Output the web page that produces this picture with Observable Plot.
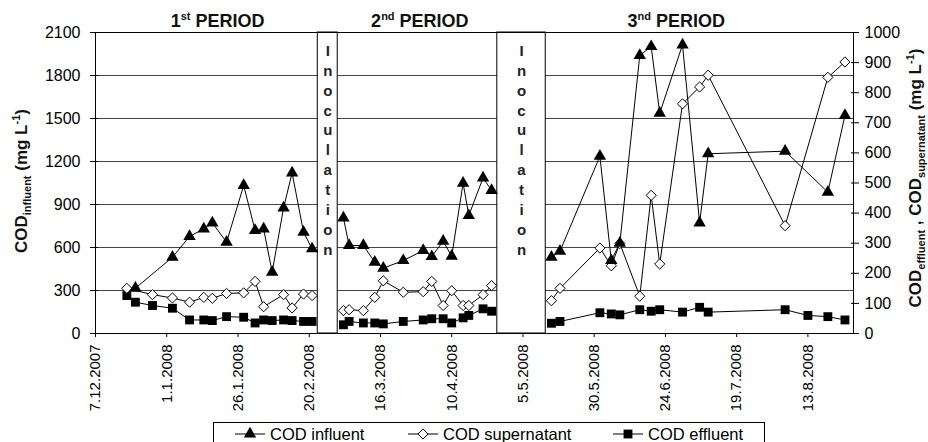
<!DOCTYPE html>
<html>
<head>
<meta charset="utf-8">
<script src="https://cdn.jsdelivr.net/npm/d3@7"></script>
<script src="https://cdn.jsdelivr.net/npm/@observablehq/plot@0.6"></script>
<style>
  html, body { margin: 0; padding: 0; background: #fff; }
  #wrap { position: relative; width: 928px; height: 442px; overflow: hidden; font-family: "Liberation Sans", Arial, sans-serif; }
  #chart svg { display: block; }
  #legend { position: absolute; left: 213px; top: 422px; }
</style>
</head>
<body>
<div id="wrap">
  <div id="chart"></div>
  <div id="legend"></div>
</div>
<script>
// ---------- DATA ----------
// COD influent (left axis, mg/L)
const influentDates = [
  "2007-12-21","2008-01-03","2008-01-09","2008-01-14","2008-01-17","2008-01-22","2008-01-28","2008-02-01","2008-02-04","2008-02-07","2008-02-11","2008-02-14","2008-02-18","2008-02-21",
  "2008-03-03","2008-03-05","2008-03-10","2008-03-14","2008-03-17","2008-03-24","2008-03-31","2008-04-03","2008-04-07","2008-04-10","2008-04-14","2008-04-16","2008-04-21","2008-04-24",
  "2008-05-15","2008-05-18","2008-06-01","2008-06-05","2008-06-08","2008-06-15","2008-06-19","2008-06-22","2008-06-30","2008-07-06","2008-07-09","2008-08-05","2008-08-20","2008-08-26"
];
const influentValues = [
  316, 532, 677, 730, 772, 637, 1033, 719, 730, 428, 876, 1121, 707, 591,
  807, 614, 614, 498, 456, 509, 579, 537, 644, 539, 1049, 823, 1086, 998,
  532, 574, 1237, 509, 630, 1940, 2002, 1537, 2014, 772, 1254, 1272, 986, 1521
];

// COD supernatant (right axis, mg/L)
const supernatantDates = [
  "2007-12-18","2007-12-27","2008-01-03","2008-01-09","2008-01-14","2008-01-17","2008-01-22","2008-01-28","2008-02-01","2008-02-04","2008-02-11","2008-02-14","2008-02-18","2008-02-21",
  "2008-03-03","2008-03-05","2008-03-10","2008-03-14","2008-03-17","2008-03-24","2008-03-31","2008-04-03","2008-04-07","2008-04-10","2008-04-14","2008-04-16","2008-04-21","2008-04-24",
  "2008-05-15","2008-05-18","2008-06-01","2008-06-05","2008-06-08","2008-06-15","2008-06-19","2008-06-22","2008-06-30","2008-07-06","2008-07-09","2008-08-05","2008-08-20","2008-08-26"
];
const supernatantValues = [
  150, 129, 118, 104, 120, 117, 133, 135, 173, 89, 129, 85, 131, 126,
  76, 79, 76, 120, 175, 137, 139, 173, 93, 142, 93, 93, 129, 159,
  109, 150, 284, 225, 299, 124, 459, 231, 763, 819, 858, 358, 851, 902
];

// COD effluent (right axis, mg/L)
const effluentDates = [
  "2007-12-18","2007-12-21","2007-12-27","2008-01-03","2008-01-09","2008-01-14","2008-01-17","2008-01-22","2008-01-28","2008-02-01","2008-02-04","2008-02-07","2008-02-11","2008-02-14","2008-02-18","2008-02-21",
  "2008-03-03","2008-03-05","2008-03-10","2008-03-14","2008-03-17","2008-03-24","2008-03-31","2008-04-03","2008-04-07","2008-04-10","2008-04-14","2008-04-16","2008-04-21","2008-04-24",
  "2008-05-15","2008-05-18","2008-06-01","2008-06-05","2008-06-08","2008-06-15","2008-06-19","2008-06-22","2008-06-30","2008-07-06","2008-07-09","2008-08-05","2008-08-13","2008-08-20","2008-08-26"
];
const effluentValues = [
  126, 104, 93, 84, 45, 45, 43, 56, 54, 35, 45, 43, 45, 43, 40, 40,
  29, 40, 35, 35, 32, 40, 45, 49, 49, 35, 52, 60, 82, 74,
  34, 40, 69, 65, 62, 79, 74, 79, 71, 87, 71, 79, 60, 56, 45
];

// Inoculation breaks
const inoculationStart = ["2008-02-23", "2008-04-26"];
const inoculationEnd   = ["2008-03-01", "2008-05-13"];
const inoculationWord = "Inoculation";

// Period titles
const periodNumbers = ["1", "2", "3"];
const periodSuffixes = ["st", "nd", "nd"];
const periodWord = "PERIOD";
const periodTitleDates = ["2008-01-19", "2008-03-30", "2008-06-28"];

// Axes
const xTickLabels = ["7.12.2007","1.1.2008","26.1.2008","20.2.2008","16.3.2008","10.4.2008","5.5.2008","30.5.2008","24.6.2008","19.7.2008","13.8.2008"];
const xDomainLabels = ["2007-12-07", "2008-08-29"];
const leftTickLabels = ["0","300","600","900","1200","1500","1800","2100"];
const rightTickLabels = ["0","100","200","300","400","500","600","700","800","900","1000"];
const gridValues = [300, 600, 900, 1200, 1500, 1800];
const leftMax = 2100, rightMax = 1000;

const seriesNames = ["COD influent", "COD supernatant", "COD effluent"];

// ---------- BUILD ----------
const iso = s => new Date(s + "T00:00:00Z");
const dmy = s => { const [d, m, y] = s.split(".").map(Number); return new Date(Date.UTC(y, m - 1, d)); };
const k = leftMax / rightMax;
const bandStarts = inoculationStart.map(iso);
const periodOf = d => d < bandStarts[0] ? 1 : d < bandStarts[1] ? 2 : 3;

const mk = (dates, values, scale) => dates.map((s, i) => {
  const date = iso(s);
  return { date, value: values[i], y: values[i] * scale, period: periodOf(date) };
});
const influent = mk(influentDates, influentValues, 1);
const supernatant = mk(supernatantDates, supernatantValues, k);
const effluent = mk(effluentDates, effluentValues, k);

const bands = inoculationStart.map((s, i) => ({ start: iso(s), end: iso(inoculationEnd[i]) }));
bands.forEach(b => b.mid = new Date((+b.start + +b.end) / 2));
const xTicks = xTickLabels.map(dmy);
const xLabelOf = d => xTickLabels[xTicks.findIndex(t => +t === +d)];
const leftTicks = leftTickLabels.map(Number);
const rightTicksY = rightTickLabels.map(v => Number(v) * k);
const rightLabelOf = d => rightTickLabels[rightTicksY.findIndex(t => Math.abs(t - d) < 1e-6)];
const leftLabelOf = d => leftTickLabels[leftTicks.indexOf(d)];

const FONT = "'Liberation Sans', Arial, Helvetica, sans-serif";

const plot = Plot.plot({
  width: 928,
  height: 420,
  marginLeft: 95,
  marginRight: 75,
  marginTop: 32,
  marginBottom: 87,
  style: { fontFamily: FONT, background: "white", color: "black", overflow: "visible" },
  x: { type: "utc", domain: xDomainLabels.map(iso) },
  y: { domain: [0, leftMax] },
  marks: [
    Plot.ruleY(gridValues, { stroke: "#444", strokeWidth: 1 }),
    Plot.rect(bands, { x1: "start", x2: "end", fill: "white", stroke: "black", strokeWidth: 1 }),
    Plot.text(bands, {
      x: "mid", frameAnchor: "top", dy: 9, lineAnchor: "top",
      text: () => inoculationWord.split("").join("\n"),
      lineHeight: 1.33, fontSize: 15, fontWeight: "bold", fill: "#222"
    }),
    Plot.frame({ stroke: "black", strokeWidth: 1 }),
    // x axis
    Plot.axisX(xTicks, { tickFormat: xLabelOf, tickRotate: -90, tickSize: 4, tickPadding: 7, fontSize: 15, label: null }),
    // left axis: labels + crossing ticks
    Plot.axisY(leftTicks, { anchor: "left", tickSize: 0, tickPadding: 15, fontSize: 16, tickFormat: leftLabelOf, label: null }),
    Plot.axisY(leftTicks, { anchor: "left", tickSize: 8, dx: 3, tickFormat: () => "", label: null }),
    // right axis: labels + crossing ticks
    Plot.axisY(rightTicksY, { anchor: "right", tickSize: 0, tickPadding: 11, fontSize: 16, tickFormat: rightLabelOf, label: null }),
    Plot.axisY(rightTicksY, { anchor: "right", tickSize: 8, dx: -3, tickFormat: () => "", label: null }),
    // lines
    Plot.line(influent, { x: "date", y: "y", z: "period", stroke: "black", strokeWidth: 1 }),
    Plot.line(supernatant, { x: "date", y: "y", z: "period", stroke: "black", strokeWidth: 1 }),
    Plot.line(effluent, { x: "date", y: "y", z: "period", stroke: "black", strokeWidth: 1 }),
    // markers
    Plot.dot(effluent, { x: "date", y: "y", symbol: "square", r: 5, fill: "black", stroke: "none" }),
    Plot.dot(supernatant, { x: "date", y: "y", symbol: "diamond2", r: 4.6, fill: "white", stroke: "black", strokeWidth: 1 }),
    Plot.dot(influent, { x: "date", y: "y", symbol: "triangle", r: 4.6, fill: "black", stroke: "none" })
  ]
});

document.getElementById("chart").appendChild(plot);

// ---------- titles with superscripts / subscripts ----------
const svg = d3.select(plot);
const xs = plot.scale("x");

periodTitleDates.forEach((s, i) => {
  const t = svg.append("text")
    .attr("x", xs.apply(iso(s))).attr("y", 27)
    .attr("text-anchor", "middle")
    .attr("font-family", FONT).attr("font-size", 18).attr("font-weight", "bold").attr("fill", "#111");
  t.append("tspan").text(periodNumbers[i]);
  t.append("tspan").attr("font-size", 11).attr("dy", -7).text(periodSuffixes[i]);
  t.append("tspan").attr("dy", 7).text(" " + periodWord);
});

function axisTitle(x, y, parts) {
  const t = svg.append("text")
    .attr("transform", `translate(${x},${y}) rotate(-90)`)
    .attr("text-anchor", "middle")
    .attr("font-family", FONT).attr("font-size", 17).attr("font-weight", "bold").attr("fill", "#111");
  let shift = 0;
  parts.forEach(([txt, kind]) => {
    const target = kind === "sub" ? 4 : kind === "sup" ? -7 : 0;
    const ts = t.append("tspan").attr("dy", target - shift).text(txt);
    if (kind) ts.attr("font-size", 11);
    shift = target;
  });
}
axisTitle(27, 181, [["COD"], ["influent", "sub"], [" (mg L"], ["-1", "sup"], [")"]]);
axisTitle(921, 178, [["COD"], ["effluent", "sub"], [" , COD"], ["supernatant", "sub"], [" (mg L"], ["-1", "sup"], [")"]]);

// ---------- legend ----------
const lg = d3.select("#legend").append("svg").attr("width", 552).attr("height", 30)
  .style("display", "block").style("overflow", "visible");
lg.append("rect").attr("x", 0.5).attr("y", 0.5).attr("width", 551).attr("height", 40)
  .attr("fill", "white").attr("stroke", "black");
const legendItems = [
  { name: seriesNames[0], sym: d3.symbolTriangle, r: 4.6, fill: "black", stroke: "none", x: 22 },
  { name: seriesNames[1], sym: d3.symbolDiamond2, r: 4.6, fill: "white", stroke: "black", x: 195 },
  { name: seriesNames[2], sym: d3.symbolSquare, r: 5, fill: "black", stroke: "none", x: 400 }
];
legendItems.forEach(it => {
  const g = lg.append("g").attr("transform", `translate(${it.x},0)`);
  g.append("line").attr("x1", 0).attr("x2", 30).attr("y1", 12).attr("y2", 12).attr("stroke", "black");
  g.append("path").attr("transform", "translate(15,12)")
    .attr("d", d3.symbol(it.sym, Math.PI * it.r * it.r)())
    .attr("fill", it.fill).attr("stroke", it.stroke);
  g.append("text").attr("x", 35).attr("y", 18)
    .attr("font-family", FONT).attr("font-size", 16.5).attr("fill", "black").text(it.name);
});
</script>
</body>
</html>
